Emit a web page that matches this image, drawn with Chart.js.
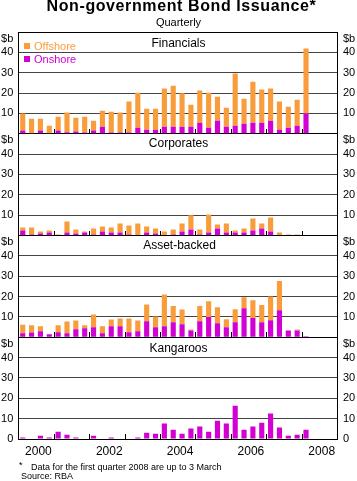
<!DOCTYPE html>
<html><head><meta charset="utf-8">
<script src="https://cdn.jsdelivr.net/npm/chart.js@4.4.0/dist/chart.umd.min.js"></script>
<style>
html,body{margin:0;padding:0;background:#fff;}
#wrap{position:relative;width:357px;height:481px;overflow:hidden;font-family:"Liberation Sans",Arial,sans-serif;}
#c{position:absolute;left:0;top:0;}
.t{position:absolute;white-space:nowrap;color:#000;}
.sq{position:absolute;width:6px;height:6px;}
</style></head><body>
<div id="wrap">
<canvas id="c" width="357" height="481"></canvas>
<div class="t" style="left:3px;width:357px;text-align:center;top:-2px;font-size:16px;line-height:16px;font-weight:bold;letter-spacing:0.6px;">Non-government Bond Issuance*</div>
<div class="t" style="left:0;width:357px;text-align:center;top:17px;font-size:11px;line-height:11px;">Quarterly</div>
<div class="t" style="left:0;width:357px;text-align:center;top:36.6px;font-size:12px;line-height:12px;">Financials</div>
<div class="t" style="left:0;width:357px;text-align:center;top:137.1px;font-size:12px;line-height:12px;">Corporates</div>
<div class="t" style="left:1px;width:357px;text-align:center;top:239.1px;font-size:12px;line-height:12px;">Asset-backed</div>
<div class="t" style="left:0;width:357px;text-align:center;top:341.6px;font-size:12px;line-height:12px;">Kangaroos</div>
<div class="sq" style="left:24px;top:43px;background:#F99D3C;"></div>
<div class="t" style="left:34px;top:40.6px;font-size:11px;line-height:11px;color:#F99D3C;">Offshore</div>
<div class="sq" style="left:24px;top:56px;background:#D200D2;"></div>
<div class="t" style="left:34px;top:53.6px;font-size:11px;line-height:11px;color:#D200D2;">Onshore</div>
<div class="t" style="left:19px;top:461px;font-size:9px;line-height:9px;">*</div>
<div class="t" style="left:31px;top:463px;font-size:9px;line-height:9px;">Data for the first quarter 2008 are up to 3 March</div>
<div class="t" style="left:21px;top:472.4px;font-size:9px;line-height:9px;">Source: RBA</div>
</div>
<script>
const quarters = ['2000Q1','2000Q2','2000Q3','2000Q4','2001Q1','2001Q2','2001Q3','2001Q4',
  '2002Q1','2002Q2','2002Q3','2002Q4','2003Q1','2003Q2','2003Q3','2003Q4',
  '2004Q1','2004Q2','2004Q3','2004Q4','2005Q1','2005Q2','2005Q3','2005Q4',
  '2006Q1','2006Q2','2006Q3','2006Q4','2007Q1','2007Q2','2007Q3','2007Q4',
  '2008Q1','2008Q2','2008Q3','2008Q4'];

const finOnshore  = [1.6,0,1.6,0,1.6,0.7,1.1,0.6,1.6,3.4,0.6,0.6,0.6,3.0,2.0,2.0,3.4,3.4,3.4,3.4,5.4,3.0,6.4,3.4,3.9,4.9,5.4,5.4,6.4,2.0,3.0,3.9,9.9];
const finOffshore = [8.4,7.4,5.8,3.9,6.8,9.8,6.8,7.8,4.8,7.9,10.2,9.9,15.2,17.2,10.3,10.3,18.8,20.2,16.5,10.9,15.8,17.2,11.8,9.4,25.7,12.3,20.2,16.3,15.8,13.8,10.3,12.8,32.0];

const corpOnshore  = [2.5,0.5,1.0,1.5,0,1.5,1.0,1.5,0.5,2.0,1.5,1.5,0.5,0,1.5,1.0,0,0.5,2.0,3.0,0.5,1.5,3.4,1.5,1.5,1.5,2.5,3.4,2.0,0,0,0,0];
const corpOffshore = [1.4,3.4,1.0,1.0,0.5,5.4,2.0,0.5,2.9,2.4,2.4,4.4,4.4,5.9,2.9,2.4,2.0,2.5,3.9,6.9,2.5,8.8,2.0,4.4,1.0,1.9,5.9,2.5,6.9,1.5,0.5,0.5,0];

const absOnshore  = [2.0,2.3,3.0,1.5,2.5,2.0,3.9,4.4,4.9,2.0,5.4,5.4,2.5,3.0,7.9,4.9,5.4,7.4,6.4,3.3,7.9,9.9,6.9,4.9,7.4,14.3,9.4,7.4,8.4,13.3,3.3,3.3,0.5];
const absOffshore = [4.2,3.6,2.4,0,3.4,5.7,4.3,1.5,6.3,3.4,3.3,3.8,6.7,5.2,8.2,5.3,15.6,7.9,7.2,0.5,7.4,7.8,7.9,4.0,6.4,5.4,8.8,8.4,11.6,14.3,0,0.5,0];

const kangOnshore = [0.7,0,1.6,0.7,3.6,2.1,0.7,0,1.6,0,0.7,0,0,0.7,3.1,2.6,7.6,4.6,2.6,5.1,6.1,3.6,9.0,7.6,16.4,4.6,6.1,8.0,12.5,5.6,1.6,2.1,4.6];

const yTickValues = [0,10,20,30,40,50];
// year labels shown under the 3rd quarter of every other year
const yearLabels = {'2000Q3':'2000','2002Q3':'2002','2004Q3':'2004','2006Q3':'2006','2008Q3':'2008'};
// year boundaries (between the 4th and the 1st quarter)
const yearBoundaries = [3.5,7.5,11.5,15.5,19.5,23.5,27.5,31.5];

const ORANGE = '#F99D3C', MAGENTA = '#D200D2';
const FONT = '"Liberation Sans", Arial, sans-serif';

function panelAxis(pos, weight, showZero){
  return {
    type:'linear', position:pos, stack: pos==='left' ? 'L' : 'R', stackWeight:1, weight:weight,
    min:0, max:50, stacked:true,
    grid:{ drawOnChartArea: pos==='left', drawTicks:false, lineWidth:1,
      color: c => (c.tick && (c.tick.value===0 || c.tick.value===50)) ? '#000' : '#444' },
    border:{ display:true, color:'#000', width:1 },
    ticks:{ autoSkip:false, padding: pos==='left' ? 5 : 6, color:'#000', font:{family:FONT, size:11},
      callback: v => v===50 ? ['', '$b'] : (v===0 ? (showZero ? '0' : '') : String(v)) },
    afterBuildTicks: s => { s.ticks = yTickValues.map(v => ({value:v})); },
    afterFit: s => { s.width = pos==='left' ? 17.8 : 18; }
  };
}

const yearTicks = {
  id:'yearTicks',
  afterDatasetsDraw(chart){
    const ctx = chart.ctx, xs = chart.scales.x;
    ctx.save(); ctx.strokeStyle = '#000'; ctx.lineWidth = 1;
    ['yF','yC','yA','yK'].forEach(id => {
      const y0 = Math.round(chart.scales[id].getPixelForValue(0));
      yearBoundaries.forEach(v => {
        const x = Math.round(xs.getPixelForValue(v)) + 0.5;
        ctx.beginPath(); ctx.moveTo(x, y0); ctx.lineTo(x, y0 - 5); ctx.stroke();
      });
    });
    ctx.restore();
  }
};

function ds(data, color, axis){
  return { data:data, backgroundColor:color, yAxisID:axis, xAxisID:'x', borderWidth:0,
    barPercentage:0.58, categoryPercentage:1 };
}

new Chart(document.getElementById('c'), {
  type:'bar',
  data:{
    labels: quarters,
    datasets:[
      ds(finOnshore, MAGENTA, 'yF'), ds(finOffshore, ORANGE, 'yF'),
      ds(corpOnshore, MAGENTA, 'yC'), ds(corpOffshore, ORANGE, 'yC'),
      ds(absOnshore, MAGENTA, 'yA'), ds(absOffshore, ORANGE, 'yA'),
      ds(kangOnshore, MAGENTA, 'yK')
    ]
  },
  options:{
    responsive:false, animation:false,
    layout:{ padding:{ left:0.5, right:2, top:32, bottom:23 } },
    plugins:{ legend:{display:false}, tooltip:{enabled:false}, title:{display:false} },
    scales:{
      x:{ type:'category', position:'bottom', offset:true, stacked:true,
        grid:{ display:false, drawTicks:false }, border:{ display:true, color:'#000' },
        ticks:{ padding:5, color:'#000', font:{family:FONT, size:12}, autoSkip:false, maxRotation:0,
          labelOffset:-2,
          callback:(v,i) => yearLabels[quarters[i]] || '' },
        afterFit: s => { s.height = 19; } },
      yF: panelAxis('left', 4, false),
      yC: panelAxis('left', 3, false),
      yA: panelAxis('left', 2, false),
      yK: panelAxis('left', 1, true),
      rF: panelAxis('right', 1, false),
      rC: panelAxis('right', 2, false),
      rA: panelAxis('right', 3, false),
      rK: panelAxis('right', 4, true)
    }
  },
  plugins:[yearTicks]
});
</script>
</body></html>
